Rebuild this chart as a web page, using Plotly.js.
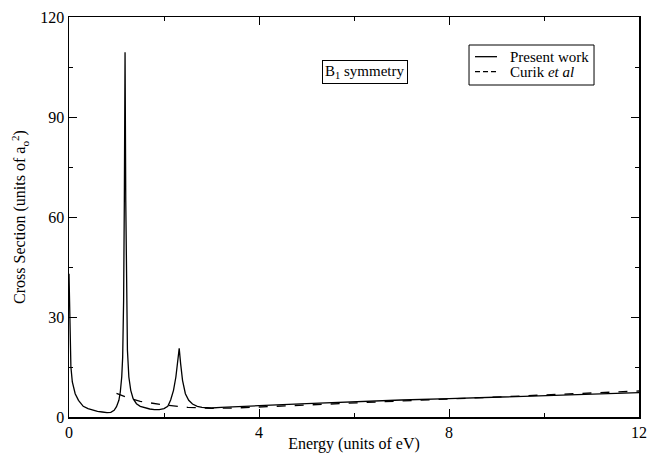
<!DOCTYPE html>
<html>
<head>
<meta charset="utf-8">
<script src="https://cdn.plot.ly/plotly-3.0.1.min.js"></script>
<style>html,body{margin:0;padding:0;background:#fff;}#chart{width:648px;height:453px;}</style>
</head>
<body>
<div id="chart"></div>
<script>
// Present work (solid)
const presentEnergy = [0.00,0.01,0.02,0.04,0.07,0.10,0.13,0.20,0.30,0.40,0.50,0.60,0.70,0.80,0.88,0.95,1.00,1.05,1.08,1.11,1.13,1.15,1.165,1.18,1.195,1.21,1.23,1.26,1.30,1.35,1.42,1.50,1.60,1.70,1.80,1.90,2.00,2.08,2.14,2.20,2.25,2.29,2.32,2.35,2.39,2.45,2.52,2.60,2.70,2.80,2.90,3.00,3.20,3.60,4.00,5.00,6.00,7.00,8.00,9.00,10.00,11.00,12.00];
const presentXS = [43,32,24,15,10.5,8.5,7,5,3.2,2.5,2.0,1.7,1.5,1.3,1.4,2.0,3.1,5.0,7.5,12,18,35,65,109.4,65,35,20,12,8,5.5,4.0,3.2,2.7,2.4,2.2,2.2,2.5,3.2,5.1,8,12,17,20.6,16,11,7,5,3.9,3.2,2.9,2.75,2.7,2.9,3.2,3.4,4.0,4.6,5.1,5.5,5.9,6.4,6.9,7.3];
// Curik et al (dashed)
const curikEnergy = [1.00,1.20,1.50,2.00,2.50,3.00,3.50,4.00,5.00,6.00,7.00,8.00,9.00,10.00,11.00,12.00];
const curikXS = [7.1,6.0,4.7,3.6,2.9,2.6,2.7,3.0,3.5,4.0,4.6,5.2,5.8,6.5,7.2,7.8];

const seriesNames = ['Present work', 'Curik <i>et al</i>'];
const xTicks = [0,4,8,12];
const yTicks = [0,30,60,90,120];

const fontFam = 'Liberation Serif';

const traces = [
  {x: presentEnergy, y: presentXS, mode: 'lines', name: seriesNames[0],
   line: {color: '#000', width: 1.3, dash: 'solid'}},
  {x: curikEnergy, y: curikXS, mode: 'lines', name: seriesNames[1],
   line: {color: '#000', width: 1.3, dash: 'dash'}}
];

const axisCommon = {
  showgrid: false, zeroline: false, showline: true, linecolor: '#000', linewidth: 1.5,
  mirror: 'ticks', ticks: 'inside', ticklen: 8, tickwidth: 1, tickcolor: '#000',
  tickfont: {family: fontFam, size: 16, color: '#000'}
};

// legend box drawn in paper coordinates
const lg = {x0: 0.7018, x1: 0.9211, y0: 0.83, y1: 0.93, sx0: 0.7123, sx1: 0.7509, tx: 0.7702, rows: [0.9008, 0.8633]};

const layout = {
  width: 648, height: 453,
  margin: {l: 69, r: 9, t: 17, b: 36},
  paper_bgcolor: '#fff', plot_bgcolor: '#fff',
  font: {family: fontFam, color: '#000', size: 16},
  xaxis: Object.assign({}, axisCommon, {
    range: [0, 12], tickvals: xTicks, ticktext: xTicks.map(String),
    minor: {dtick: 2, tick0: 0, ticks: 'inside', ticklen: 4, tickcolor: '#000', showgrid: false},
    title: {text: 'Energy (units of eV)', font: {family: fontFam, size: 16, color: '#000'}, standoff: 0}
  }),
  yaxis: Object.assign({}, axisCommon, {
    range: [0, 120], tickvals: yTicks, ticktext: yTicks.map(String),
    minor: {dtick: 15, tick0: 0, ticks: 'inside', ticklen: 4, tickcolor: '#000', showgrid: false},
    title: {text: 'Cross Section (units of a<sub>o</sub><sup>2</sup>)', font: {family: fontFam, size: 16, color: '#000'}, standoff: 10}
  }),
  showlegend: false,
  shapes: [
    {type: 'rect', xref: 'paper', yref: 'paper', x0: lg.x0, x1: lg.x1, y0: lg.y0, y1: lg.y1,
     line: {color: '#000', width: 1}, fillcolor: '#fff'},
    {type: 'line', xref: 'paper', yref: 'paper', x0: lg.sx0, x1: lg.sx1, y0: lg.rows[0], y1: lg.rows[0],
     line: {color: '#000', width: 1.3, dash: 'solid'}},
    {type: 'line', xref: 'paper', yref: 'paper', x0: lg.sx0, x1: lg.sx1, y0: lg.rows[1], y1: lg.rows[1],
     line: {color: '#000', width: 1.3, dash: '5px,3px'}}
  ],
  annotations: [
    {xref: 'paper', yref: 'paper', x: 0.52, y: 0.8625, xanchor: 'center', yanchor: 'middle',
     text: 'B<sub>1</sub> symmetry', showarrow: false,
     font: {family: fontFam, size: 15, color: '#000'},
     bordercolor: '#000', borderwidth: 1, borderpad: 2, bgcolor: '#fff'},
    {xref: 'paper', yref: 'paper', x: lg.tx, y: lg.rows[0], xanchor: 'left', yanchor: 'middle',
     text: seriesNames[0], showarrow: false, font: {family: fontFam, size: 15, color: '#000'}},
    {xref: 'paper', yref: 'paper', x: lg.tx, y: lg.rows[1], xanchor: 'left', yanchor: 'middle',
     text: seriesNames[1], showarrow: false, font: {family: fontFam, size: 15, color: '#000'}}
  ]
};

Plotly.newPlot('chart', traces, layout, {displayModeBar: false, staticPlot: true});
</script>
</body>
</html>
